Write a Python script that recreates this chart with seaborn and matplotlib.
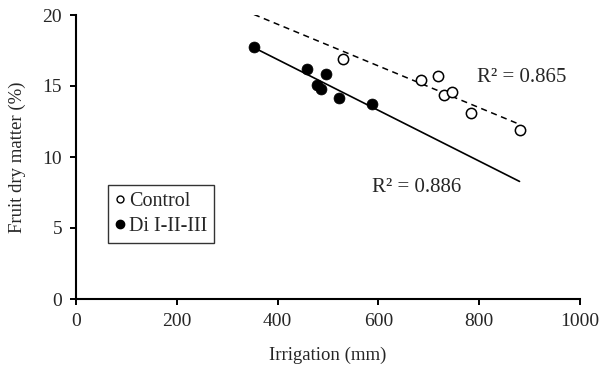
import numpy as np
import pandas as pd
import matplotlib
matplotlib.use("Agg")
import matplotlib.pyplot as plt
import seaborn as sns
from matplotlib.lines import Line2D

# ---- data ----
control_irrigation = [530, 684, 718, 731, 747, 784, 880]
control_dry_matter = [16.87, 15.45, 15.72, 14.40, 14.61, 13.12, 11.88]
di_irrigation = [353, 458, 497, 479, 486, 522, 588]
di_dry_matter = [17.75, 16.21, 15.86, 15.10, 14.80, 14.13, 13.76]
series_names = ["Control", "Di I-II-III"]
r2_labels = ["R\u00b2 = 0.865", "R\u00b2 = 0.886"]
x_ticks = [0, 200, 400, 600, 800, 1000]
y_ticks = [0, 5, 10, 15, 20]

sns.set_style("ticks")
plt.rcParams["font.family"] = ["Liberation Serif", "DejaVu Serif"]

fig = plt.figure(figsize=(6.02, 3.71), dpi=100)
ax = fig.add_axes([76 / 602, 1 - 299 / 371, 504 / 602, 284 / 371])

ctrl = pd.DataFrame({"x": control_irrigation, "y": control_dry_matter})
di = pd.DataFrame({"x": di_irrigation, "y": di_dry_matter})

# regression lines over the full x range of both series
x_all = np.array(control_irrigation + di_irrigation)
x_line = np.array([x_all.min(), x_all.max()])
pc = np.polyfit(ctrl["x"], ctrl["y"], 1)
pd_ = np.polyfit(di["x"], di["y"], 1)
sns.lineplot(x=x_line, y=np.polyval(pc, x_line), ax=ax, color="black",
             linestyle=(0, (4, 3)), linewidth=1.1)
sns.lineplot(x=x_line, y=np.polyval(pd_, x_line), ax=ax, color="black",
             linestyle="-", linewidth=1.2)

sns.scatterplot(data=ctrl, x="x", y="y", ax=ax, marker="o", s=55,
                facecolor="white", edgecolor="black", linewidth=1.1, zorder=3)
sns.scatterplot(data=di, x="x", y="y", ax=ax, marker="o", s=62,
                color="black", edgecolor="black", linewidth=0.5, zorder=3)

ax.text(795, 15.62, r2_labels[0], fontsize=15, va="center", ha="left")
ax.text(587, 7.87, r2_labels[1], fontsize=15, va="center", ha="left")

ax.set_xlim(0, 1000)
ax.set_ylim(0, 20)
ax.set_xticks(x_ticks)
ax.set_yticks(y_ticks)
ax.set_xlabel("Irrigation (mm)", fontsize=13.5, labelpad=12)
ax.set_ylabel("Fruit dry matter (%)", fontsize=13.5, labelpad=12)
ax.tick_params(axis="both", labelsize=14, direction="out", length=4,
               width=1.4, color="black", pad=6)
for side in ("top", "right"):
    ax.spines[side].set_visible(False)
for side in ("left", "bottom"):
    ax.spines[side].set_linewidth(1.5)
    ax.spines[side].set_color("black")

handles = [
    Line2D([], [], marker="o", linestyle="none", markersize=5,
           markerfacecolor="white", markeredgecolor="black", markeredgewidth=1),
    Line2D([], [], marker="o", linestyle="none", markersize=6,
           markerfacecolor="black", markeredgecolor="black"),
]
leg = ax.legend(handles, series_names, loc="upper left",
                bbox_to_anchor=(0.0635, 0.401), fontsize=14.5, frameon=True,
                fancybox=False, edgecolor="black", handlelength=0.5,
                handletextpad=0.2, borderpad=0.35, labelspacing=0.3,
                borderaxespad=0)
leg.get_frame().set_linewidth(1.0)

ax.set_facecolor("white")
fig.patch.set_facecolor("white")
fig.savefig("out.png", dpi=100, facecolor="white")
